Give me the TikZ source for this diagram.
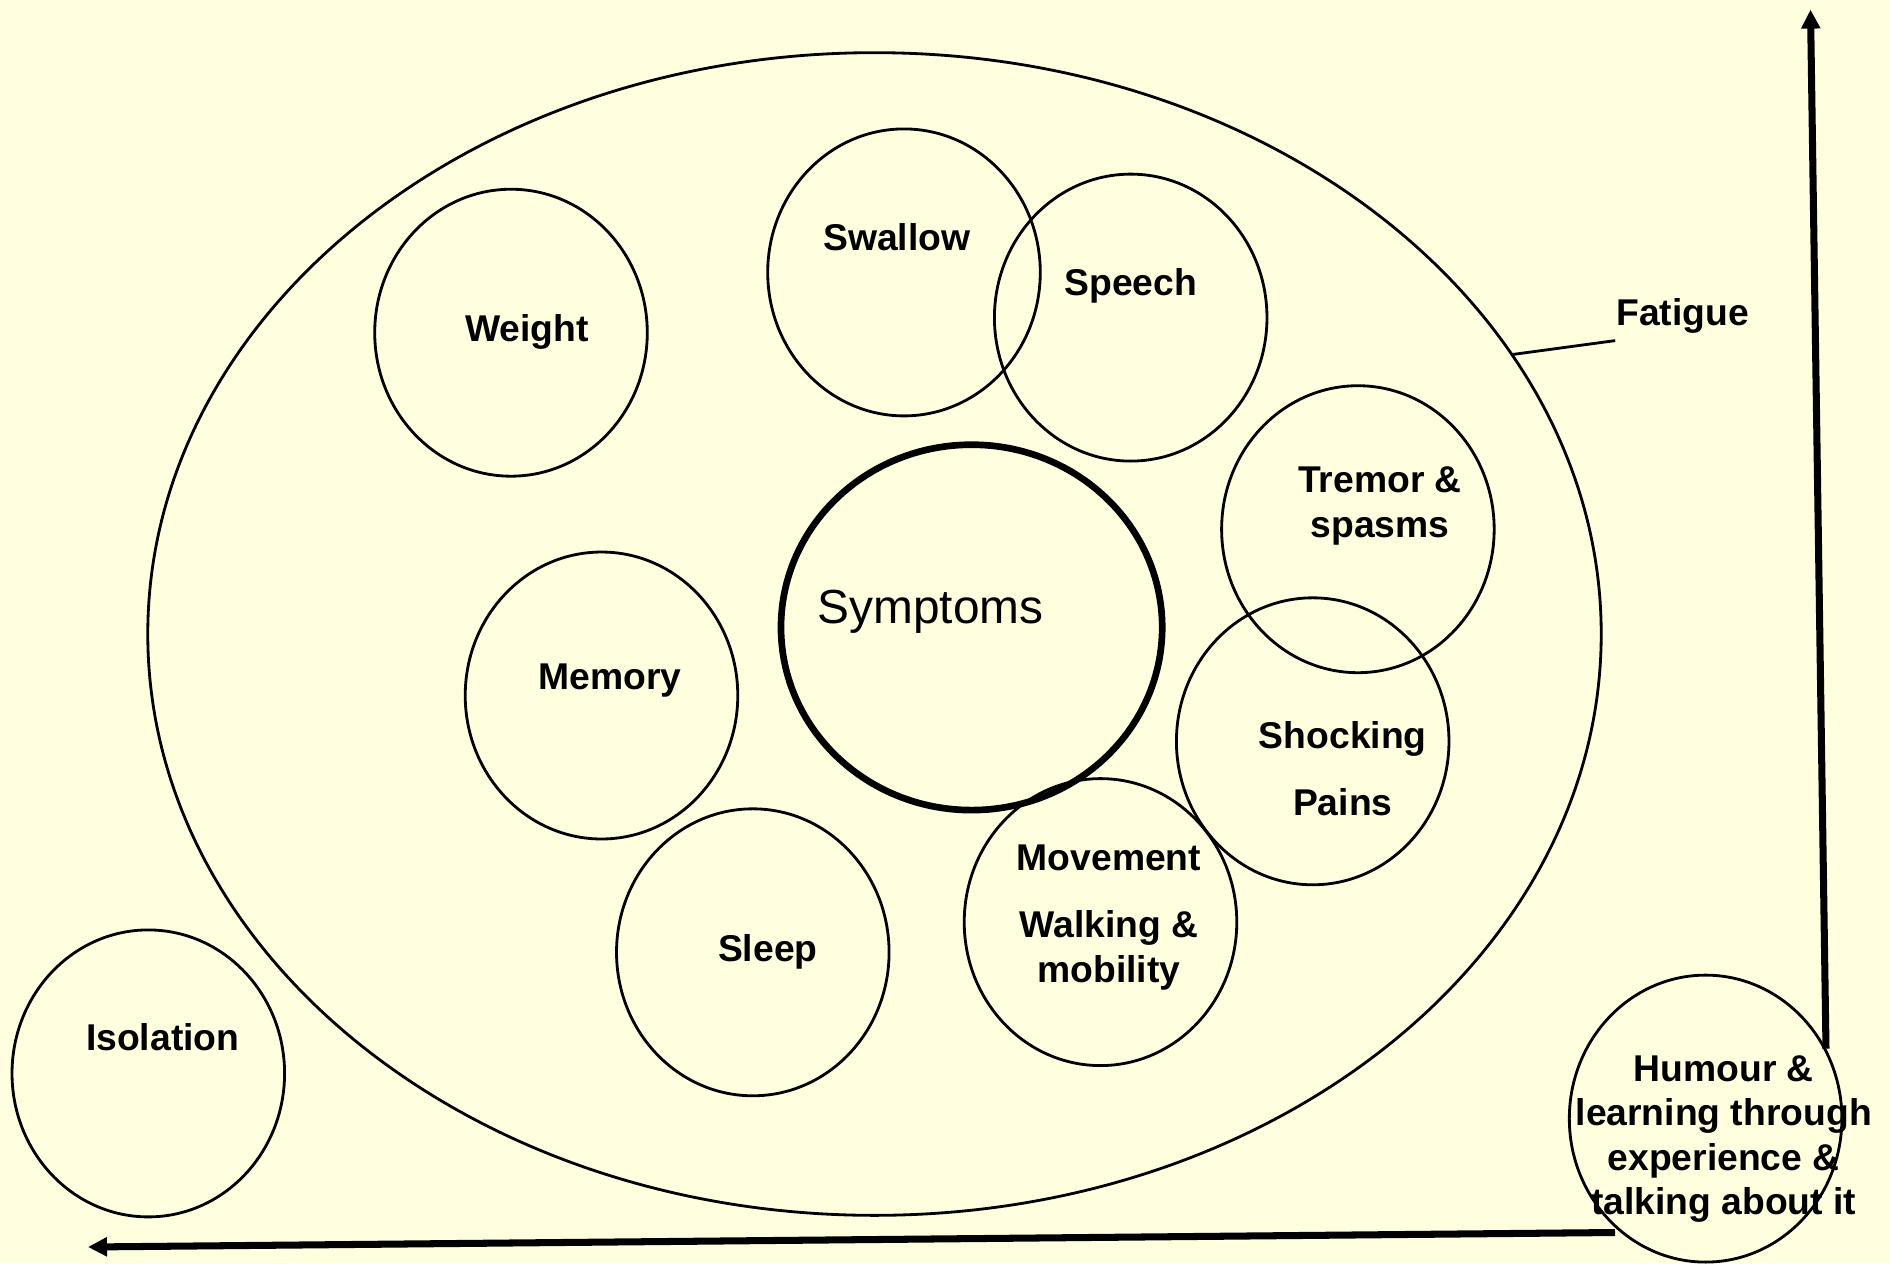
\documentclass[tikz,border=0pt]{standalone}
\usepackage{fontspec}
\setmainfont{Liberation Sans}
\usetikzlibrary{shapes.geometric,arrows.meta}
\definecolor{paper}{RGB}{255,255,224}
\begin{document}
\begin{tikzpicture}[x=0.01cm,y=-0.01cm,
  ring/.style={draw, ellipse, line width=0.8pt, inner sep=0pt,
    minimum width=2.724cm, minimum height=2.868cm},
  lbl/.style={anchor=base, font=\fontsize{10.6pt}{12pt}\selectfont\bfseries, inner sep=0pt},
  axisarrow/.style={line width=2pt, -{Triangle[length=5.4pt,width=5.2pt]}}]
  % page
  \fill[paper] (0,0) rectangle (1890,1263);
  \useasboundingbox (0,0) rectangle (1890,1263);

  % outer field of fatigue
  \node[draw, ellipse, line width=0.8pt, inner sep=0pt,
        minimum width=14.526cm, minimum height=11.62cm] (outer) at (874.5,634) {};

  % symptom circles
  \node[ring] (weight)   at (511,332.7) {};
  \node[ring] (swallow)  at (904,272.4) {};
  \node[ring] (speech)   at (1130.7,317.6) {};
  \node[ring] (tremor)   at (1357.9,529.2) {};
  \node[ring] (shocking) at (1312.7,741.3) {};
  \node[ring] (movement) at (1100.5,922.1) {};
  \node[ring] (sleep)    at (752.8,952.3) {};
  \node[ring] (memory)   at (601.5,695.5) {};
  \node[ring] (isolation) at (148.3,1073.4) {};
  \node[ring] (humour)   at (1705.6,1118.6) {};

  % central circle
  \node[draw, ellipse, line width=1.9pt, inner sep=0pt,
        minimum width=3.81cm, minimum height=3.652cm] (symptoms) at (971.6,627.4) {};

  % labels
  \node[lbl] (tWeight)  at (526.8,341) {Weight};
  \node[lbl] (tSwallow) at (896.8,250.5) {Swallow};
  \node[lbl] (tSpeech)  at (1130.7,295) {Speech};
  \node[lbl] (tTremorA) at (1380,492.7) {Tremor \&};
  \node[lbl] (tTremorB) at (1380,537.3) {spasms};
  \node[lbl] (tMemory)  at (610,689.2) {Memory};
  \node[anchor=base, inner sep=0pt, font=\fontsize{13.6pt}{16pt}\selectfont]
        (tSymptoms) at (930.6,623.3) {Symptoms};
  \node[lbl] (tShockA)  at (1342.8,748.3) {Shocking};
  \node[lbl] (tShockB)  at (1342.8,815.8) {Pains};
  \node[lbl] (tMoveA)   at (1109,870) {Movement};
  \node[lbl] (tMoveB)   at (1109,937.5) {Walking \&};
  \node[lbl] (tMoveC)   at (1109,982.1) {mobility};
  \node[lbl] (tSleep)   at (767.8,961.6) {Sleep};
  \node[lbl] (tIsol)    at (162.7,1050.9) {Isolation};
  \node[lbl] (tHumA)    at (1723.7,1081) {Humour \&};
  \node[lbl] (tHumB)    at (1723.7,1125.6) {learning through};
  \node[lbl] (tHumC)    at (1723.7,1170.2) {experience \&};
  \node[lbl] (tHumD)    at (1723.7,1214.8) {talking about it};
  \node[lbl] (tFatigue) at (1682.7,325.2) {Fatigue};

  % leader from the outer field to its label
  \coordinate (fatA) at (1511.6,354.6);
  \coordinate (fatB) at (1615.2,340.6);
  \draw[line width=0.8pt] (fatA) -- (fatB);

  % axes leaving the coping circle
  \coordinate (upStart)   at (1826,1048.7);
  \coordinate (upEnd)     at (1810.5,9.6);
  \coordinate (leftStart) at (1615,1232.5);
  \coordinate (leftEnd)   at (88,1247);
  \draw[axisarrow] (upStart) -- (upEnd);
  \draw[axisarrow] (leftStart) -- (leftEnd);
\end{tikzpicture}
\end{document}
